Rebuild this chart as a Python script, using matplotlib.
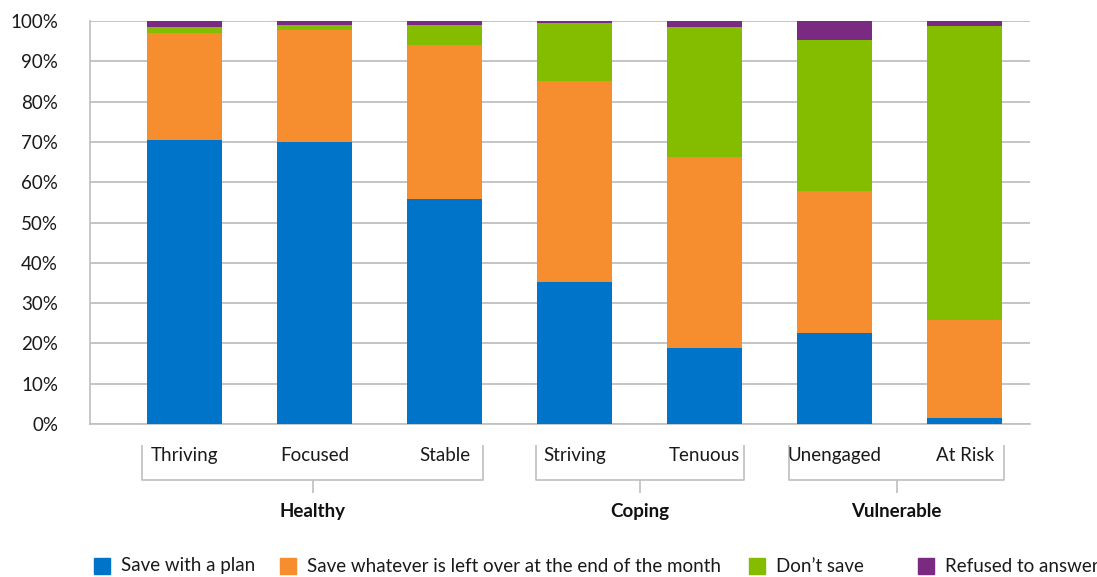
import matplotlib
matplotlib.use("Agg")
import matplotlib.pyplot as plt
from matplotlib.patches import Rectangle
import numpy as np

plt.rcParams['font.family'] = ['Lato', 'DejaVu Sans']

segments = ["Thriving", "Focused", "Stable", "Striving", "Tenuous", "Unengaged", "At Risk"]
groups = ["Healthy", "Coping", "Vulnerable"]
group_members = [(0, 2), (3, 4), (5, 6)]

series_names = ["Save with a plan",
                "Save whatever is left over at the end of the month",
                "Don\u2019t save",
                "Refused to answer"]
save_plan = [70.5, 69.9, 55.8, 35.2, 18.9, 22.6, 1.5]
save_leftover = [26.6, 27.9, 38.2, 49.9, 47.4, 35.2, 24.3]
dont_save = [1.5, 1.2, 5.0, 14.4, 32.2, 37.5, 73.0]
refused = [1.4, 1.0, 1.0, 0.5, 1.5, 4.7, 1.2]

colors = ["#0074C9", "#F68D2E", "#84BC00", "#7A2A80"]
grid_gray = "#BFBFBF"

fig = plt.figure(figsize=(10.97, 5.77), dpi=100)
W, H = 1097, 577
ax = fig.add_axes([90 / W, 1 - 424 / H, 940 / W, 403 / H])

x = np.arange(len(segments))
bottom = np.zeros(len(segments))
for vals, col in zip([save_plan, save_leftover, dont_save, refused], colors):
    ax.bar(x, vals, width=0.577, bottom=bottom, color=col, zorder=3)
    bottom += np.array(vals)

ax.set_xlim(-0.727, 6.5)
ax.set_ylim(0, 100)
ax.set_yticks(np.arange(0, 101, 10))
ax.set_yticklabels([f"{v}%" for v in range(0, 101, 10)], fontsize=13.5, color="#1a1a1a")
ax.yaxis.grid(True, color=grid_gray, linewidth=1.3, zorder=0)
ax.set_xticks([])
for side in ["top", "right"]:
    ax.spines[side].set_visible(False)
for side in ["left", "bottom"]:
    ax.spines[side].set_color(grid_gray)
    ax.spines[side].set_linewidth(1.2)
ax.tick_params(axis="y", length=0, pad=23)

# Segment labels under each bar
for xi, name in zip(x, segments):
    ax.text(xi, -7.7, name, ha="center", va="center", fontsize=13.5,
            color="#1a1a1a", clip_on=False)

# Group brackets with bold group names
bkw = dict(color=grid_gray, linewidth=1.2, clip_on=False, solid_capstyle="butt")
bracket_span = [(-0.327, 2.296), (2.70, 4.30), (4.65, 6.30)]
for gname, (left, right) in zip(groups, bracket_span):
    ax.plot([left, left, right, right], [-5.2, -13.9, -13.9, -5.2], **bkw)
    mid = (left + right) / 2
    ax.plot([mid, mid], [-13.9, -17.2], **bkw)
    ax.text(mid, -21.8, gname, ha="center", va="center", fontsize=13.5,
            fontweight="bold", color="#111111", clip_on=False)

# Legend drawn along the bottom edge
legend_x = [94, 280, 749, 918]
ly = 566
for lx, col, name in zip(legend_x, colors, series_names):
    fig.add_artist(Rectangle((lx / W, 1 - (ly + 8) / H), 16 / W, 16 / H,
                             transform=fig.transFigure, color=col))
    fig.text((lx + 27) / W, 1 - ly / H, name, ha="left", va="center",
             fontsize=13.5, color="#1a1a1a")

fig.savefig("out.png", dpi=100)
